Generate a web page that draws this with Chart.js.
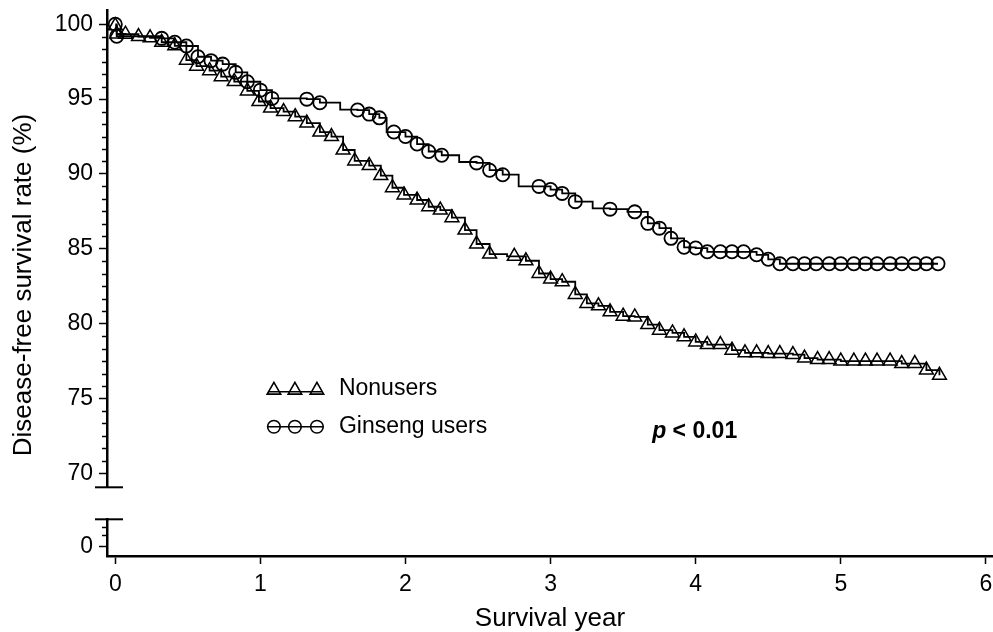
<!DOCTYPE html>
<html>
<head>
<meta charset="utf-8">
<script src="https://cdn.jsdelivr.net/npm/chart.js@4.4.1/dist/chart.umd.min.js"></script>
<style>
  html, body { margin: 0; padding: 0; background: #fff; overflow: hidden; }
  canvas { display: block; }
</style>
</head>
<body>
<canvas id="km" width="993" height="632"></canvas>
<script>
// Kaplan-Meier curves, marks (year, %)
const nonuserYears = [0.00, 0.01, 0.07, 0.16, 0.24, 0.32, 0.41, 0.49, 0.56, 0.65,
  0.73, 0.82, 0.91, 0.99, 1.07, 1.16, 1.24, 1.32, 1.41, 1.49,
  1.57, 1.65, 1.75, 1.83, 1.91, 1.99, 2.08, 2.16, 2.24, 2.32,
  2.41, 2.49, 2.58, 2.75, 2.83, 2.92, 3.00, 3.08, 3.17, 3.25,
  3.33, 3.41, 3.50, 3.58, 3.67, 3.75, 3.84, 3.92, 4.00, 4.08,
  4.17, 4.25, 4.34, 4.42, 4.50, 4.58, 4.67, 4.75, 4.84, 4.92,
  5.00, 5.09, 5.17, 5.25, 5.34, 5.42, 5.51, 5.59, 5.68];
const nonuserRate = [99.9, 99.35, 99.34, 99.18, 99.1, 98.8, 98.56, 97.6, 97.2, 96.9,
  96.5, 96.17, 95.55, 94.84, 94.4, 94.17, 93.83, 93.4, 92.8, 92.5,
  91.6, 90.87, 90.56, 89.89, 89.08, 88.6, 88.26, 87.81, 87.59, 87.08,
  86.25, 85.32, 84.65, 84.5, 84.2, 83.35, 82.98, 82.8, 81.95, 81.35,
  81.19, 80.79, 80.5, 80.45, 79.94, 79.56, 79.38, 79.12, 78.78, 78.6,
  78.6, 78.23, 78.05, 78.05, 78.0, 78.0, 77.93, 77.7, 77.6, 77.6,
  77.5, 77.5, 77.5, 77.5, 77.5, 77.33, 77.33, 76.9, 76.55];
// drops that carry no mark
const nonuserStepYears = [2.70];
const nonuserStepRate = [84.5];

const ginsengYears = [0.00, 0.01, 0.32, 0.41, 0.49, 0.57, 0.66, 0.74, 0.83, 0.91,
  1.00, 1.08, 1.32, 1.41, 1.67, 1.75, 1.82, 1.92, 2.00, 2.08,
  2.16, 2.25, 2.49, 2.58, 2.67, 2.92, 3.00, 3.08, 3.17, 3.41,
  3.58, 3.67, 3.75, 3.83, 3.92, 4.00, 4.08, 4.17, 4.25, 4.33,
  4.42, 4.50, 4.58, 4.67, 4.75, 4.83, 4.92, 5.00, 5.09, 5.17,
  5.25, 5.34, 5.42, 5.51, 5.59, 5.67];
const ginsengRate = [100.0, 99.2, 99.06, 98.8, 98.55, 97.83, 97.57, 97.34, 96.79, 96.16,
  95.6, 95.05, 95.0, 94.76, 94.27, 94.0, 93.75, 92.8, 92.5, 92.0,
  91.5, 91.25, 90.74, 90.25, 89.95, 89.17, 88.96, 88.7, 88.15, 87.65,
  87.47, 86.7, 86.38, 85.7, 85.1, 85.05, 84.8, 84.8, 84.8, 84.8,
  84.6, 84.3, 84.0, 84.0, 84.0, 84.0, 84.0, 84.0, 84.0, 84.0,
  84.0, 84.0, 84.0, 84.0, 84.0, 84.0];
const ginsengStepYears = [1.55, 1.87, 2.37, 2.78, 3.29, 3.53];
const ginsengStepRate = [94.3, 92.8, 90.8, 89.17, 87.7, 87.47];

const seriesNames = ['Nonusers', 'Ginseng users'];
const xTicks = [0, 1, 2, 3, 4, 5, 6];
const yTicks = [70, 75, 80, 85, 90, 95, 100];
const yLowTicks = [0];
const yLowMinorTicks = [0.8, 1.3];
const pText = ['p', ' < 0.01'];

const FONT = '"Liberation Sans", Arial, Helvetica, sans-serif';
Chart.defaults.font.family = FONT;
Chart.defaults.color = '#000';

function points(xs, ys) {
  return xs.map((v, i) => ({x: v, y: ys[i]}));
}
function stepPoints(xs, ys, sx, sy) {
  return points(xs, ys).concat(points(sx, sy)).sort((a, b) => a.x - b.x);
}

// minor ticks every 5/6 unit between the labelled ones, as in the figure
const yMinorTicks = [];
for (let k = 85; k < 120; k++) {
  if (k % 6 !== 0) yMinorTicks.push(k * 5 / 6);
}

function fixWidth(s) {
  s.width = 107;
  s.paddingTop = 0;
  s.paddingBottom = 0;
}

function drawMark(ctx, style, x, y, r) {
  ctx.beginPath();
  if (style === 'triangle') {
    let a = 0;
    ctx.moveTo(x + Math.sin(a) * r, y - Math.cos(a) * r);
    a += Math.PI * 2 / 3;
    ctx.lineTo(x + Math.sin(a) * r, y - Math.cos(a) * r);
    a += Math.PI * 2 / 3;
    ctx.lineTo(x + Math.sin(a) * r, y - Math.cos(a) * r);
    ctx.closePath();
  } else {
    ctx.arc(x, y, r, 0, Math.PI * 2);
  }
  ctx.stroke();
}

const extras = {
  id: 'extras',
  afterDraw(chart) {
    const {ctx} = chart;
    const x = chart.scales.x, y = chart.scales.y, yLow = chart.scales.yLow;
    ctx.save();
    ctx.strokeStyle = '#000';

    // minor ticks
    ctx.lineWidth = 1.5;
    [[y, yMinorTicks], [yLow, yLowMinorTicks]].forEach(([s, list]) => {
      list.forEach(v => {
        const py = Math.round(s.getPixelForValue(v)) + 0.5;
        ctx.beginPath();
        ctx.moveTo(s.right - 5, py);
        ctx.lineTo(s.right, py);
        ctx.stroke();
      });
    });

    // break caps
    ctx.lineWidth = 2;
    [y.bottom, yLow.top].forEach(py => {
      ctx.beginPath();
      ctx.moveTo(y.right - 12, py);
      ctx.lineTo(y.right + 16, py);
      ctx.stroke();
    });

    // y title, centred on the whole broken axis
    ctx.fillStyle = '#000';
    ctx.font = '26px ' + FONT;
    ctx.textAlign = 'center';
    ctx.textBaseline = 'middle';
    ctx.translate(24, (y.top + yLow.bottom) / 2 + 2);
    ctx.rotate(-Math.PI / 2);
    ctx.fillText('Disease-free survival rate (%)', 0, 0);
    ctx.setTransform(1, 0, 0, 1, 0, 0);

    // legend
    const lx = x.getPixelForValue(1.052);
    const rows = [y.getPixelForValue(75.45), y.getPixelForValue(73.11)];
    const styles = ['triangle', 'circle'];
    const radii = [7.8, 6.3];
    rows.forEach((ly, i) => {
      ctx.lineWidth = 1.6;
      ctx.beginPath();
      ctx.moveTo(lx, ly);
      ctx.lineTo(lx + 55, ly);
      ctx.stroke();
      [6, 27, 49].forEach(dx => drawMark(ctx, styles[i], lx + dx, ly - (i === 0 ? 1.5 : 0), radii[i]));
      ctx.font = '23px ' + FONT;
      ctx.textAlign = 'left';
      ctx.textBaseline = 'middle';
      ctx.fillText(seriesNames[i], lx + 71, ly - (i === 0 ? 3 : 0));
    });

    // p value
    const px = x.getPixelForValue(3.7);
    const pyb = y.getPixelForValue(72.34);
    ctx.textBaseline = 'alphabetic';
    ctx.font = 'italic bold 23px ' + FONT;
    ctx.fillText(pText[0], px, pyb);
    const w = ctx.measureText(pText[0]).width;
    ctx.font = 'bold 23px ' + FONT;
    ctx.fillText(pText[1], px + w, pyb);

    ctx.restore();
  }
};

new Chart(document.getElementById('km'), {
  type: 'scatter',
  data: {
    datasets: [{
      label: seriesNames[0] + ' curve',
      data: stepPoints(nonuserYears, nonuserRate, nonuserStepYears, nonuserStepRate),
      showLine: true,
      stepped: true,
      borderColor: '#000',
      borderWidth: 1.8,
      pointRadius: 0,
      yAxisID: 'y'
    }, {
      label: seriesNames[0],
      data: points(nonuserYears, nonuserRate),
      showLine: false,
      pointStyle: 'triangle',
      pointRadius: 8,
      pointBorderWidth: 1.5,
      pointBorderColor: '#000',
      pointBackgroundColor: 'transparent',
      yAxisID: 'y'
    }, {
      label: seriesNames[1] + ' curve',
      data: stepPoints(ginsengYears, ginsengRate, ginsengStepYears, ginsengStepRate),
      showLine: true,
      stepped: true,
      borderColor: '#000',
      borderWidth: 1.8,
      pointRadius: 0,
      yAxisID: 'y'
    }, {
      label: seriesNames[1],
      data: points(ginsengYears, ginsengRate),
      showLine: false,
      pointStyle: 'circle',
      pointRadius: 6.6,
      pointBorderWidth: 1.8,
      pointBorderColor: '#000',
      pointBackgroundColor: 'transparent',
      yAxisID: 'y'
    }]
  },
  options: {
    responsive: false,
    animation: false,
    layout: {autoPadding: false, padding: {top: 10, left: 0, right: 0, bottom: 0}},
    plugins: {legend: {display: false}, tooltip: {enabled: false}},
    scales: {
      x: {
        type: 'linear',
        position: 'bottom',
        min: -0.057,
        max: 6.049,
        afterBuildTicks: s => { s.ticks = xTicks.map(v => ({value: v})); },
        afterFit: s => { s.height = 76; s.paddingLeft = 0; s.paddingRight = 0; },
        ticks: {font: {size: 23}, color: '#000', padding: 7, maxRotation: 0},
        grid: {drawOnChartArea: false, tickLength: 8, tickWidth: 1.5, tickColor: '#000'},
        border: {color: '#000', width: 2.5},
        title: {display: true, text: 'Survival year', font: {size: 26}, color: '#000', padding: {top: 0, bottom: -2}}
      },
      y: {
        type: 'linear',
        position: 'left',
        stack: 'broken',
        stackWeight: 477.3,
        weight: 3,
        min: 69.065,
        max: 100.955,
        afterBuildTicks: s => { s.ticks = yTicks.map(v => ({value: v})); },
        afterFit: fixWidth,
        ticks: {font: {size: 23}, color: '#000', padding: 6},
        grid: {drawOnChartArea: false, tickLength: 8, tickWidth: 1.5, tickColor: '#000'},
        border: {color: '#000', width: 2.5}
      },
      yGap: {
        type: 'linear',
        position: 'left',
        stack: 'broken',
        stackWeight: 32,
        weight: 2,
        min: 0,
        max: 1,
        afterFit: fixWidth,
        ticks: {display: false},
        grid: {display: false},
        border: {display: false}
      },
      yLow: {
        type: 'linear',
        position: 'left',
        stack: 'broken',
        stackWeight: 36.7,
        weight: 1,
        min: -0.62,
        max: 1.83,
        afterBuildTicks: s => { s.ticks = yLowTicks.map(v => ({value: v})); },
        afterFit: fixWidth,
        ticks: {font: {size: 23}, color: '#000', padding: 6},
        grid: {drawOnChartArea: false, tickLength: 8, tickWidth: 1.5, tickColor: '#000'},
        border: {color: '#000', width: 2.5}
      }
    }
  },
  plugins: [extras]
});
</script>
</body>
</html>
